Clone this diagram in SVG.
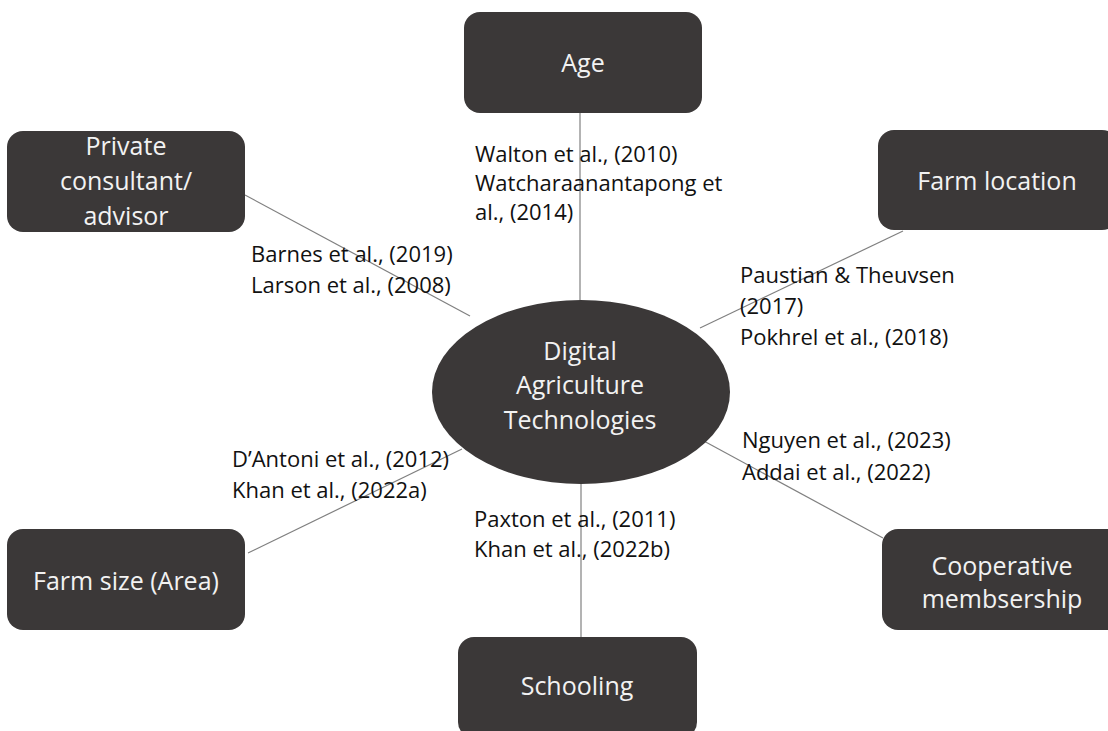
<svg xmlns="http://www.w3.org/2000/svg" width="1108" height="731" viewBox="0 0 1108 731">
<style>
.box{fill:#3b3838;}
.lt{font-family:"Open Sans","Noto Sans","DejaVu Sans",sans-serif;font-size:25px;fill:#f2f2f2;text-anchor:middle;}
.ct{font-family:"Open Sans","Noto Sans","DejaVu Sans",sans-serif;font-size:22px;fill:#111;}
.ln{stroke:#808080;stroke-width:1.2;fill:none;}
</style>
<rect width="1108" height="731" fill="#fff"/>
<g id="connectors">
<line class="ln" x1="580" y1="113" x2="580" y2="302"/>
<line class="ln" x1="245" y1="195" x2="470" y2="316"/>
<line class="ln" x1="903" y1="231" x2="700" y2="328"/>
<line class="ln" x1="248" y1="553" x2="462" y2="449"/>
<line class="ln" x1="702" y1="440" x2="883" y2="538"/>
<line class="ln" x1="581" y1="482" x2="581" y2="637"/>
</g>
<g id="labels">
<text class="ct" x="475" y="162">Walton et al., (2010)</text>
<text class="ct" x="475" y="191">Watcharaanantapong et</text>
<text class="ct" x="475" y="220">al., (2014)</text>
<text class="ct" x="251" y="262">Barnes et al., (2019)</text>
<text class="ct" x="251" y="293">Larson et al., (2008)</text>
<text class="ct" x="740" y="283">Paustian &amp; Theuvsen</text>
<text class="ct" x="740" y="314">(2017)</text>
<text class="ct" x="740" y="345">Pokhrel et al., (2018)</text>
<text class="ct" x="232" y="467">D’Antoni et al., (2012)</text>
<text class="ct" x="232" y="498">Khan et al., (2022a)</text>
<text class="ct" x="742" y="448">Nguyen et al., (2023)</text>
<text class="ct" x="742" y="480">Addai et al., (2022)</text>
<text class="ct" x="474" y="527">Paxton et al., (2011)</text>
<text class="ct" x="474" y="557">Khan et al., (2022b)</text>
</g>
<g id="center">
<ellipse class="box" cx="581" cy="392" rx="149" ry="92"/>
<text class="lt" x="580" y="360">Digital</text>
<text class="lt" x="580" y="394">Agriculture</text>
<text class="lt" x="580" y="429">Technologies</text>
</g>
<g id="age">
<rect class="box" x="464" y="12" width="238" height="101" rx="16"/>
<text class="lt" x="583" y="72">Age</text>
</g>
<g id="private">
<rect class="box" x="7" y="131" width="238" height="101" rx="16"/>
<text class="lt" x="126" y="155">Private</text>
<text class="lt" x="126" y="190">consultant/</text>
<text class="lt" x="126" y="225">advisor</text>
</g>
<g id="farmlocation">
<rect class="box" x="878" y="130" width="240" height="100" rx="16"/>
<text class="lt" x="997" y="190">Farm location</text>
</g>
<g id="farmsize">
<rect class="box" x="7" y="529" width="238" height="101" rx="16"/>
<text class="lt" x="126" y="590">Farm size (Area)</text>
</g>
<g id="cooperative">
<rect class="box" x="882" y="529" width="240" height="101" rx="16"/>
<text class="lt" x="1002" y="575">Cooperative</text>
<text class="lt" x="1002" y="608">membsership</text>
</g>
<g id="schooling">
<rect class="box" x="458" y="637" width="239" height="101" rx="16"/>
<text class="lt" x="577" y="695">Schooling</text>
</g>
</svg>
